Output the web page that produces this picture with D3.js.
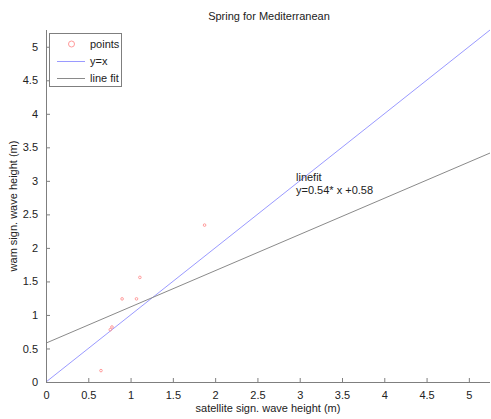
<!DOCTYPE html>
<html>
<head>
<meta charset="utf-8">
<script src="https://cdn.jsdelivr.net/npm/d3@7"></script>
<style>
  body { margin: 0; background: #fff; }
  svg { display: block; font-family: "Liberation Sans", Arial, Helvetica, sans-serif; }
</style>
</head>
<body>
<svg id="chart" width="491" height="419"></svg>
<script>
// Seasonal comparison: satellite vs WAM significant wave height
const satelliteHs = [0.65, 0.76, 0.78, 0.90, 1.07, 1.11, 1.875];
const wamHs       = [0.17, 0.78, 0.82, 1.24, 1.24, 1.56, 2.34];
const fitSlope = 0.54;
const fitIntercept = 0.58;
const xTicks = [0, 0.5, 1, 1.5, 2, 2.5, 3, 3.5, 4, 4.5, 5];
const yTicks = [0, 0.5, 1, 1.5, 2, 2.5, 3, 3.5, 4, 4.5, 5];
const legendLabels = ["points", "y=x", "line fit"];
const axisMax = 5.25;

const svg = d3.select("#chart");
const margin = { left: 46, top: 30, right: 1, bottom: 37 };
const W = 491, H = 419;

const x = d3.scaleLinear().domain([0, axisMax]).range([margin.left, W - margin.right]);
const y = d3.scaleLinear().domain([0, axisMax]).range([H - margin.bottom, margin.top]);

const axisColor = "#7f7f7f";
const textColor = "#222";

// Reference line y = x
svg.append("line")
  .attr("x1", x(0)).attr("y1", y(0))
  .attr("x2", x(axisMax)).attr("y2", y(axisMax))
  .attr("stroke", "#9a9aff").attr("stroke-width", 1);

// Least-squares fit line
svg.append("line")
  .attr("x1", x(0)).attr("y1", y(fitIntercept))
  .attr("x2", x(axisMax)).attr("y2", y(fitSlope * axisMax + fitIntercept))
  .attr("stroke", "#8a8a8a").attr("stroke-width", 1);

// Data points
svg.append("g").selectAll("circle")
  .data(satelliteHs.map((v, i) => [v, wamHs[i]]))
  .join("circle")
  .attr("cx", d => x(d[0]))
  .attr("cy", d => y(d[1]))
  .attr("r", 1.3)
  .attr("fill", "none")
  .attr("stroke", "#ff9a9a")
  .attr("stroke-width", 1);

// Axes with inward ticks
const xAxis = d3.axisBottom(x).tickValues(xTicks).tickSize(-4).tickPadding(9)
  .tickFormat(d3.format("~g"));
const yAxis = d3.axisLeft(y).tickValues(yTicks).tickSize(-4).tickPadding(8)
  .tickFormat(d3.format("~g"));

const gx = svg.append("g").attr("transform", `translate(0,${y(0)})`).call(xAxis);
const gy = svg.append("g").attr("transform", `translate(${x(0)},0)`).call(yAxis);
[gx, gy].forEach(g => {
  g.select(".domain").attr("stroke", axisColor);
  g.selectAll(".tick line").attr("stroke", axisColor);
  g.selectAll(".tick text").attr("fill", textColor).attr("font-size", 11)
    .attr("font-family", "Liberation Sans, Arial, sans-serif");
});
gx.select(".domain").attr("d", `M${x(0)},0.5H${x(axisMax)}`);
gy.select(".domain").attr("d", `M0.5,${y(0)}V${y(axisMax)}`);

// Title and axis labels
svg.append("text").attr("x", 269).attr("y", 20).attr("text-anchor", "middle")
  .attr("font-size", 11).attr("fill", textColor).text("Spring for Mediterranean");
svg.append("text").attr("x", 268).attr("y", 412).attr("text-anchor", "middle")
  .attr("font-size", 11).attr("fill", textColor).text("satellite sign. wave height (m)");
svg.append("text").attr("transform", `translate(17,${(y(0) + y(axisMax)) / 2}) rotate(-90)`)
  .attr("text-anchor", "middle").attr("font-size", 11).attr("fill", textColor)
  .text("wam sign. wave height (m)");

// Fit annotation
svg.append("text").attr("x", 296).attr("y", 181).attr("font-size", 11)
  .attr("fill", textColor).text("linefit");
svg.append("text").attr("x", 296).attr("y", 194).attr("font-size", 11)
  .attr("fill", textColor).text(`y=${fitSlope}* x +${fitIntercept}`);

// Legend
const legend = svg.append("g");
legend.append("rect").attr("x", 49.5).attr("y", 33.5).attr("width", 72).attr("height", 53)
  .attr("fill", "#fff").attr("stroke", axisColor);
const rowY = [44, 61, 78];
legend.append("circle").attr("cx", 71.5).attr("cy", rowY[0]).attr("r", 3)
  .attr("fill", "none").attr("stroke", "#ff9a9a");
legend.append("line").attr("x1", 57).attr("x2", 85).attr("y1", rowY[1] + 0.5).attr("y2", rowY[1] + 0.5)
  .attr("stroke", "#9a9aff");
legend.append("line").attr("x1", 57).attr("x2", 85).attr("y1", rowY[2] + 0.5).attr("y2", rowY[2] + 0.5)
  .attr("stroke", "#8a8a8a");
legend.selectAll("text.lbl").data(legendLabels).join("text")
  .attr("class", "lbl")
  .attr("x", 90).attr("y", (d, i) => rowY[i] + 4)
  .attr("font-size", 11).attr("fill", textColor).text(d => d);
</script>
</body>
</html>
